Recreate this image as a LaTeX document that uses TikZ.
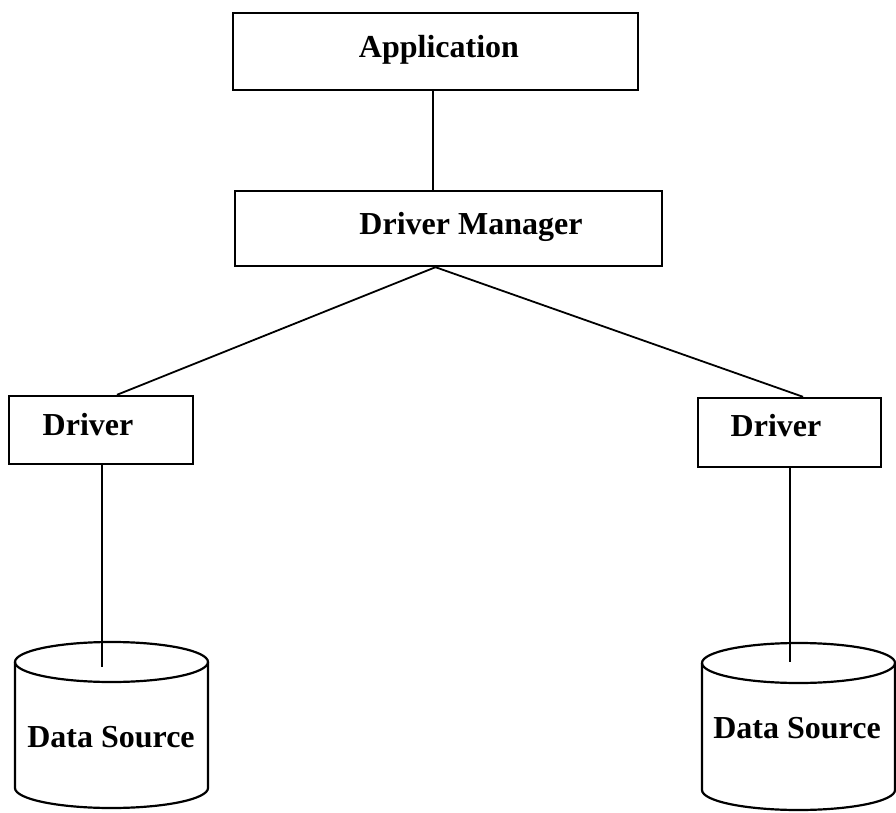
\documentclass[tikz,border=0pt]{standalone}
\usepackage{fontspec}
\setmainfont{Liberation Serif}
\usetikzlibrary{calc}
\begin{document}
\begin{tikzpicture}[x=1pt,y=1pt,
  box/.style={draw, line width=2.4pt, inner sep=0pt},
  lbl/.style={anchor=base, font=\fontsize{32}{38}\selectfont\bfseries, inner sep=0pt},
  wire/.style={line width=1.8pt},
  drum/.style={line width=2.2pt}]
\useasboundingbox (0,0) rectangle (896,812);

% boxes
\node[box, minimum width=405, minimum height=77] (app)  at (435.5,760.5) {};
\node[box, minimum width=427, minimum height=75] (dm)   at (448.5,583.5) {};
\node[box, minimum width=184, minimum height=68] (drvL) at (101,382) {};
\node[box, minimum width=183, minimum height=69] (drvR) at (789.5,379.5) {};

% labels
\node[lbl] (tapp)  at (439,754) {Application};
\node[lbl] (tdm)   at (471,577) {Driver Manager};
\node[lbl] (tdrvL) at (88,377)  {Driver};
\node[lbl] (tdrvR) at (776,375) {Driver};

% data source drums
\draw[drum] (15,150) -- (15,24) arc (180:360:96.5 and 20) -- (208,150);
\draw[drum] (111.5,150) ellipse (96.5 and 20);
\draw[drum] (702,149) -- (702,22) arc (180:360:96.5 and 20) -- (895,149);
\draw[drum] (798.5,149) ellipse (96.5 and 20);
\node[lbl] (tdsL) at (111,65) {Data Source};
\node[lbl] (tdsR) at (797,74) {Data Source};
\coordinate (dsLtop) at (102,145);
\coordinate (dsRtop) at (790,150);

% connectors
\coordinate (fork) at ($(dm.south)+(-13,0)$);
\draw[wire] ($(app.south)+(-2.5,0)$) -- ($(app.south |- dm.north)+(-2.5,0)$);
\draw[wire] (fork) -- ($(drvL.north)+(16,0)$);
\draw[wire] (fork) -- ($(drvR.north)+(13.5,0)$);
\draw[wire] (drvL.south -| dsLtop) -- (dsLtop);
\draw[wire] (drvR.south -| dsRtop) -- (dsRtop);
\end{tikzpicture}
\end{document}
